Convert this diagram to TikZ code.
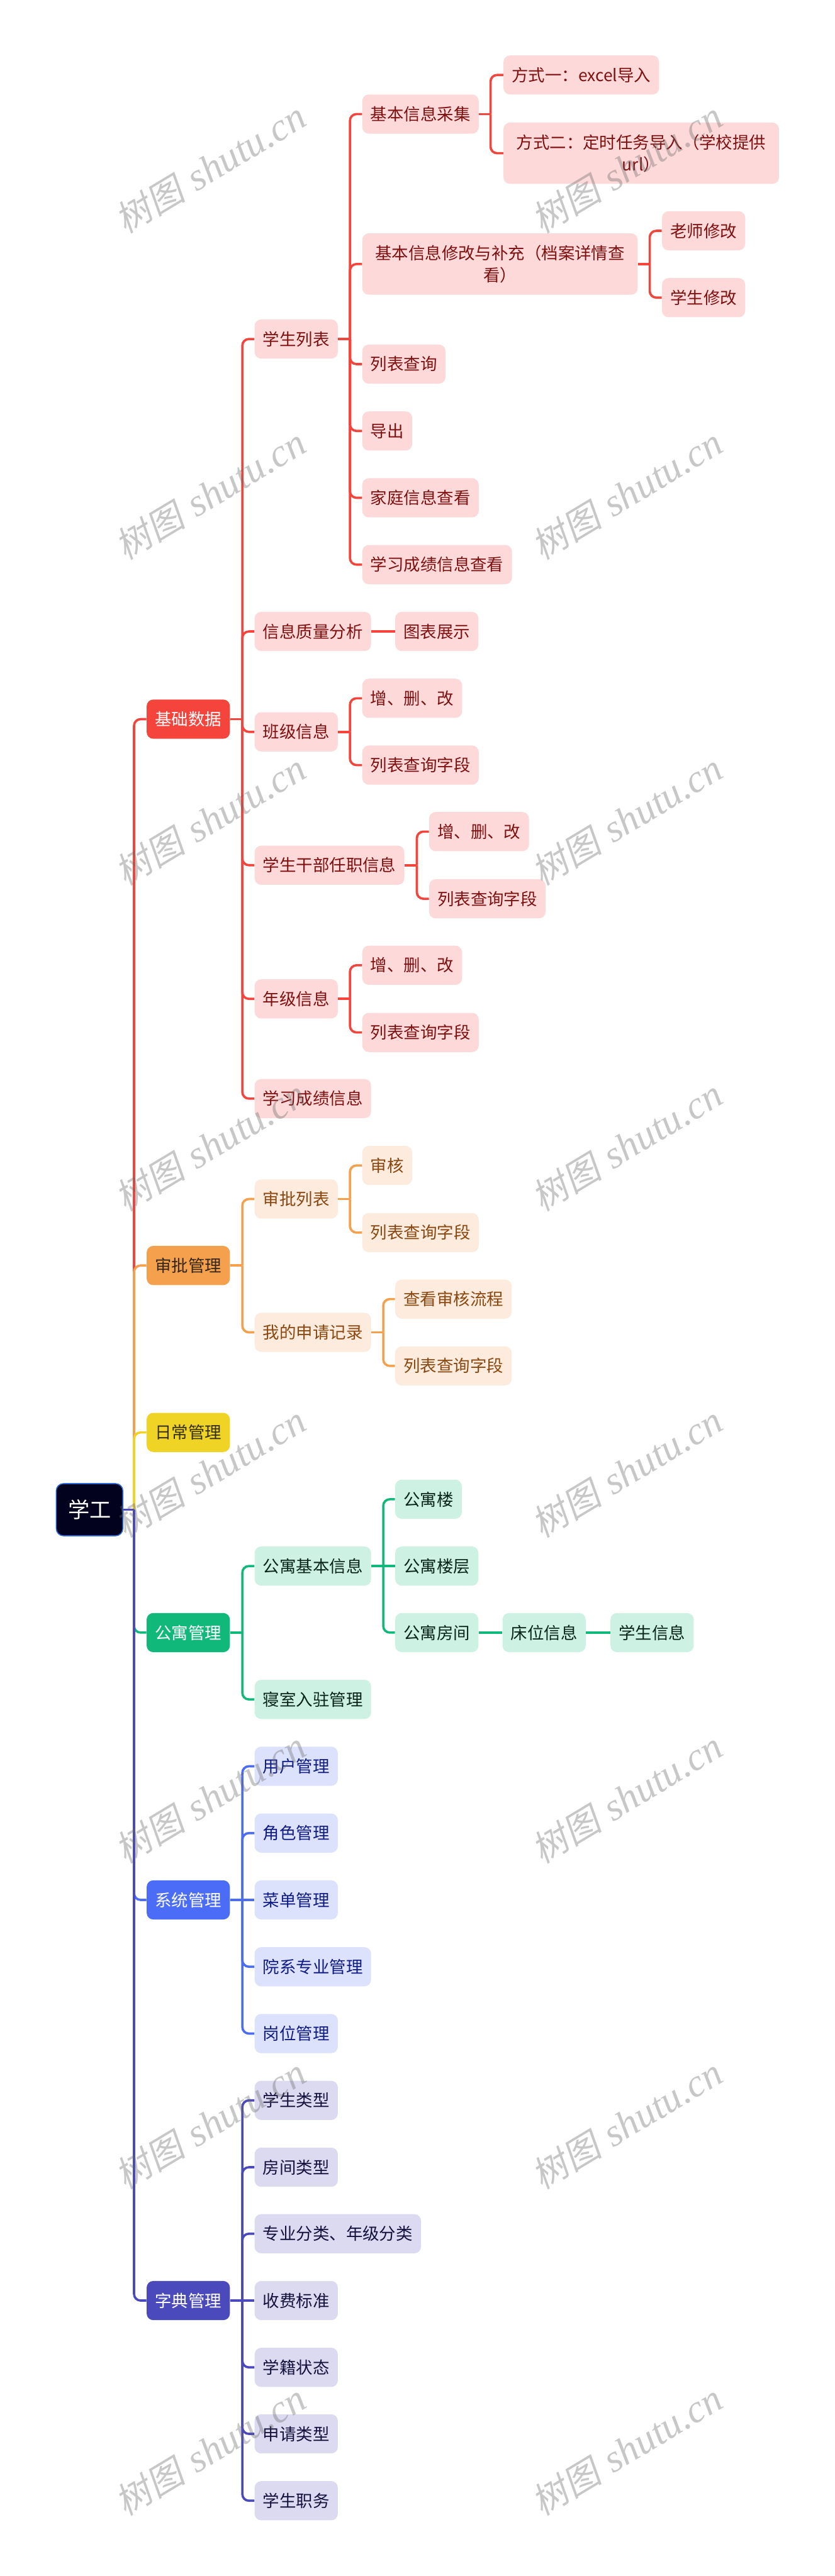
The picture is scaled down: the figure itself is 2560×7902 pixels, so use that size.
\documentclass[tikz,border=0pt]{standalone}
\usepackage{fontspec}
\setmainfont{Noto Sans CJK SC}
\newfontfamily\wmcjk[FakeSlant=0.2]{Noto Sans CJK SC}
\newfontfamily\wmlat{Liberation Serif}
\usetikzlibrary{calc,backgrounds}
\definecolor{cRed}{HTML}{F5443C}
\definecolor{cRedL}{HTML}{FDDAD9}
\definecolor{cRedT}{HTML}{7F1010}
\definecolor{cOrg}{HTML}{F5A04C}
\definecolor{cOrgL}{HTML}{FDEBDD}
\definecolor{cOrgT}{HTML}{8A470F}
\definecolor{cOrgD}{HTML}{33261A}
\definecolor{cYel}{HTML}{F0D425}
\definecolor{cYelD}{HTML}{332E14}
\definecolor{cGrn}{HTML}{10B97A}
\definecolor{cGrnL}{HTML}{CDF2E3}
\definecolor{cGrnT}{HTML}{0A2419}
\definecolor{cBlu}{HTML}{4A6CF7}
\definecolor{cBluL}{HTML}{DCE2FB}
\definecolor{cBluT}{HTML}{101C86}
\definecolor{cInd}{HTML}{4B4ABC}
\definecolor{cIndL}{HTML}{DCDAF1}
\definecolor{cIndT}{HTML}{12123D}
\definecolor{cRoot}{HTML}{02021E}
\definecolor{cRootB}{HTML}{2F6AD9}
\newcommand\mmBranch[4]{\draw[lnk,draw=#1] (#3 |- #2.east) -- (#3 |- #4.west) -- (#4.west);}
\newcommand\mmStub[3]{\draw[lnk,draw=#1] (#2.east) -- (#3 |- #2.east);}
\newcommand\mmDirect[3]{\draw[lnk,draw=#1] (#2.east) -- (#3.west);}
\newcommand\mmWater{{\wmcjk\fontsize{31pt}{31pt}\selectfont 树图}\hspace{0.35cm}{\wmlat\itshape\fontsize{34pt}{34pt}\selectfont shutu.cn}}
\begin{document}
\begin{tikzpicture}[x=0.01cm,y=-0.01cm,
  box/.style={rectangle, rounded corners=0.2cm, minimum height=1.2cm, inner xsep=0.255cm, inner ysep=0.04cm, anchor=west, align=center, font=\fontsize{14.5pt}{19.1pt}\selectfont},
  lvone/.style={box, fill=#1, text=white},
  kRed/.style={box, fill=cRedL, text=cRedT},
  kOrg/.style={box, fill=cOrgL, text=cOrgT},
  kGrn/.style={box, fill=cGrnL, text=cGrnT},
  kBlu/.style={box, fill=cBluL, text=cBluT},
  kInd/.style={box, fill=cIndL, text=cIndT},
  twoline/.style={minimum width=8.44cm, minimum height=1.88cm},
  rt/.style={rectangle, rounded corners=0.22cm, fill=cRoot, draw=cRootB, line width=0.03cm, minimum width=2.04cm, minimum height=1.6cm, anchor=west, text=white, font=\fontsize{18.8pt}{22pt}\selectfont},
  lnk/.style={line width=0.07cm, rounded corners=0.2cm},
  wm/.style={rotate=31, text=black!60, text opacity=0.36}
]
% root and first level
\node[rt] (r) at (171,4631) {学工};
\node[lvone=cRed] (a) at (449,2206) {基础数据};
\node[lvone=cOrg, text=cOrgD] (b) at (449,3882) {审批管理};
\node[lvone=cYel, text=cYelD] (c) at (449,4394) {日常管理};
\node[lvone=cGrn] (d) at (449,5008) {公寓管理};
\node[lvone=cBlu] (e) at (449,5828) {系统管理};
\node[lvone=cInd] (f) at (449,7057) {字典管理};
% 基础数据
\node[kRed] (a1) at (780,1040) {学生列表};
\node[kRed] (a2) at (780,1937) {信息质量分析};
\node[kRed] (a3) at (780,2245) {班级信息};
\node[kRed] (a4) at (780,2654) {学生干部任职信息};
\node[kRed] (a5) at (780,3064) {年级信息};
\node[kRed] (a6) at (780,3370) {学习成绩信息};
\node[kRed] (a11) at (1110,350) {基本信息采集};
\node[kRed, twoline] (a12) at (1110,810) {基本信息修改与补充（档案详情查\\看）};
\node[kRed] (a13) at (1110,1117) {列表查询};
\node[kRed] (a14) at (1110,1322) {导出};
\node[kRed] (a15) at (1110,1527) {家庭信息查看};
\node[kRed] (a16) at (1110,1732) {学习成绩信息查看};
\node[kRed] (a111) at (1543,230) {方式一：excel导入};
\node[kRed, twoline] (a112) at (1543,470) {方式二：定时任务导入（学校提供\\url）};
\node[kRed] (a121) at (2029,708) {老师修改};
\node[kRed] (a122) at (2029,913) {学生修改};
\node[kRed] (a21) at (1211,1937) {图表展示};
\node[kRed] (a31) at (1110,2142) {增、删、改};
\node[kRed] (a32) at (1110,2347) {列表查询字段};
\node[kRed] (a41) at (1315,2551) {增、删、改};
\node[kRed] (a42) at (1315,2757) {列表查询字段};
\node[kRed] (a51) at (1110,2961) {增、删、改};
\node[kRed] (a52) at (1110,3167) {列表查询字段};
% 审批管理
\node[kOrg] (b1) at (780,3678) {审批列表};
\node[kOrg] (b2) at (780,4087) {我的申请记录};
\node[kOrg] (b11) at (1110,3575) {审核};
\node[kOrg] (b12) at (1110,3781) {列表查询字段};
\node[kOrg] (b21) at (1211,3985) {查看审核流程};
\node[kOrg] (b22) at (1211,4190) {列表查询字段};
% 公寓管理
\node[kGrn] (d1) at (780,4804) {公寓基本信息};
\node[kGrn] (d2) at (780,5213) {寝室入驻管理};
\node[kGrn] (d11) at (1211,4599) {公寓楼};
\node[kGrn] (d12) at (1211,4804) {公寓楼层};
\node[kGrn] (d13) at (1211,5008) {公寓房间};
\node[kGrn] (d131) at (1540,5008) {床位信息};
\node[kGrn] (d1311) at (1871,5008) {学生信息};
% 系统管理
\node[kBlu] (e1) at (780,5418) {用户管理};
\node[kBlu] (e2) at (780,5623) {角色管理};
\node[kBlu] (e3) at (780,5828) {菜单管理};
\node[kBlu] (e4) at (780,6033) {院系专业管理};
\node[kBlu] (e5) at (780,6238) {岗位管理};
% 字典管理
\node[kInd] (f1) at (780,6443) {学生类型};
\node[kInd] (f2) at (780,6648) {房间类型};
\node[kInd] (f3) at (780,6852) {专业分类、年级分类};
\node[kInd] (f4) at (780,7057) {收费标准};
\node[kInd] (f5) at (780,7262) {学籍状态};
\node[kInd] (f6) at (780,7466) {申请类型};
\node[kInd] (f7) at (780,7671) {学生职务};
% trunk coordinates
\coordinate (T0) at (411,0);
\coordinate (T1) at (743,0);
\coordinate (Tx) at (1073,0);
\coordinate (Ta11) at (1504,0);
\coordinate (Ta12) at (1992,0);
\coordinate (Ta4) at (1278,0);
\coordinate (Ty) at (1175,0);
\begin{scope}[on background layer]
\fill[white] (0,0) rectangle (2560,7902);
% root level
\mmBranch{cRed}{r}{T0}{a}
\mmBranch{cOrg}{r}{T0}{b}
\mmBranch{cYel}{r}{T0}{c}
\mmBranch{cGrn}{r}{T0}{d}
\mmBranch{cBlu}{r}{T0}{e}
\mmBranch{cInd}{r}{T0}{f}
\mmStub{cInd}{r}{T0}
% 基础数据
\mmStub{cRed}{a}{T1}
\foreach \k in {a1,a2,a3,a4,a5,a6} {\mmBranch{cRed}{a}{T1}{\k}}
\mmStub{cRed}{a1}{Tx}
\foreach \k in {a11,a12,a13,a14,a15,a16} {\mmBranch{cRed}{a1}{Tx}{\k}}
\mmStub{cRed}{a11}{Ta11}
\mmBranch{cRed}{a11}{Ta11}{a111}
\mmBranch{cRed}{a11}{Ta11}{a112}
\mmStub{cRed}{a12}{Ta12}
\mmBranch{cRed}{a12}{Ta12}{a121}
\mmBranch{cRed}{a12}{Ta12}{a122}
\mmDirect{cRed}{a2}{a21}
\mmStub{cRed}{a3}{Tx}
\mmBranch{cRed}{a3}{Tx}{a31}
\mmBranch{cRed}{a3}{Tx}{a32}
\mmStub{cRed}{a4}{Ta4}
\mmBranch{cRed}{a4}{Ta4}{a41}
\mmBranch{cRed}{a4}{Ta4}{a42}
\mmStub{cRed}{a5}{Tx}
\mmBranch{cRed}{a5}{Tx}{a51}
\mmBranch{cRed}{a5}{Tx}{a52}
% 审批管理
\mmStub{cOrg}{b}{T1}
\mmBranch{cOrg}{b}{T1}{b1}
\mmBranch{cOrg}{b}{T1}{b2}
\mmStub{cOrg}{b1}{Tx}
\mmBranch{cOrg}{b1}{Tx}{b11}
\mmBranch{cOrg}{b1}{Tx}{b12}
\mmStub{cOrg}{b2}{Ty}
\mmBranch{cOrg}{b2}{Ty}{b21}
\mmBranch{cOrg}{b2}{Ty}{b22}
% 公寓管理
\mmStub{cGrn}{d}{T1}
\mmBranch{cGrn}{d}{T1}{d1}
\mmBranch{cGrn}{d}{T1}{d2}
\mmDirect{cGrn}{d1}{d12}
\mmBranch{cGrn}{d1}{Ty}{d11}
\mmBranch{cGrn}{d1}{Ty}{d13}
\mmDirect{cGrn}{d13}{d131}
\mmDirect{cGrn}{d131}{d1311}
% 系统管理
\mmDirect{cBlu}{e}{e3}
\foreach \k in {e1,e2,e4,e5} {\mmBranch{cBlu}{e}{T1}{\k}}
% 字典管理
\mmDirect{cInd}{f}{f4}
\foreach \k in {f1,f2,f3,f5,f6,f7} {\mmBranch{cInd}{f}{T1}{\k}}
\end{scope}
% watermarks
\foreach \yy in {515,1515,2515,3515,4515,5515,6515,7515} {
  \node[wm] (wmA\yy) at (645,\yy) {\mmWater};
  \node[wm] (wmB\yy) at (1922,\yy) {\mmWater};
}
\useasboundingbox (0,0) rectangle (2560,7902);
\end{tikzpicture}
\end{document}
